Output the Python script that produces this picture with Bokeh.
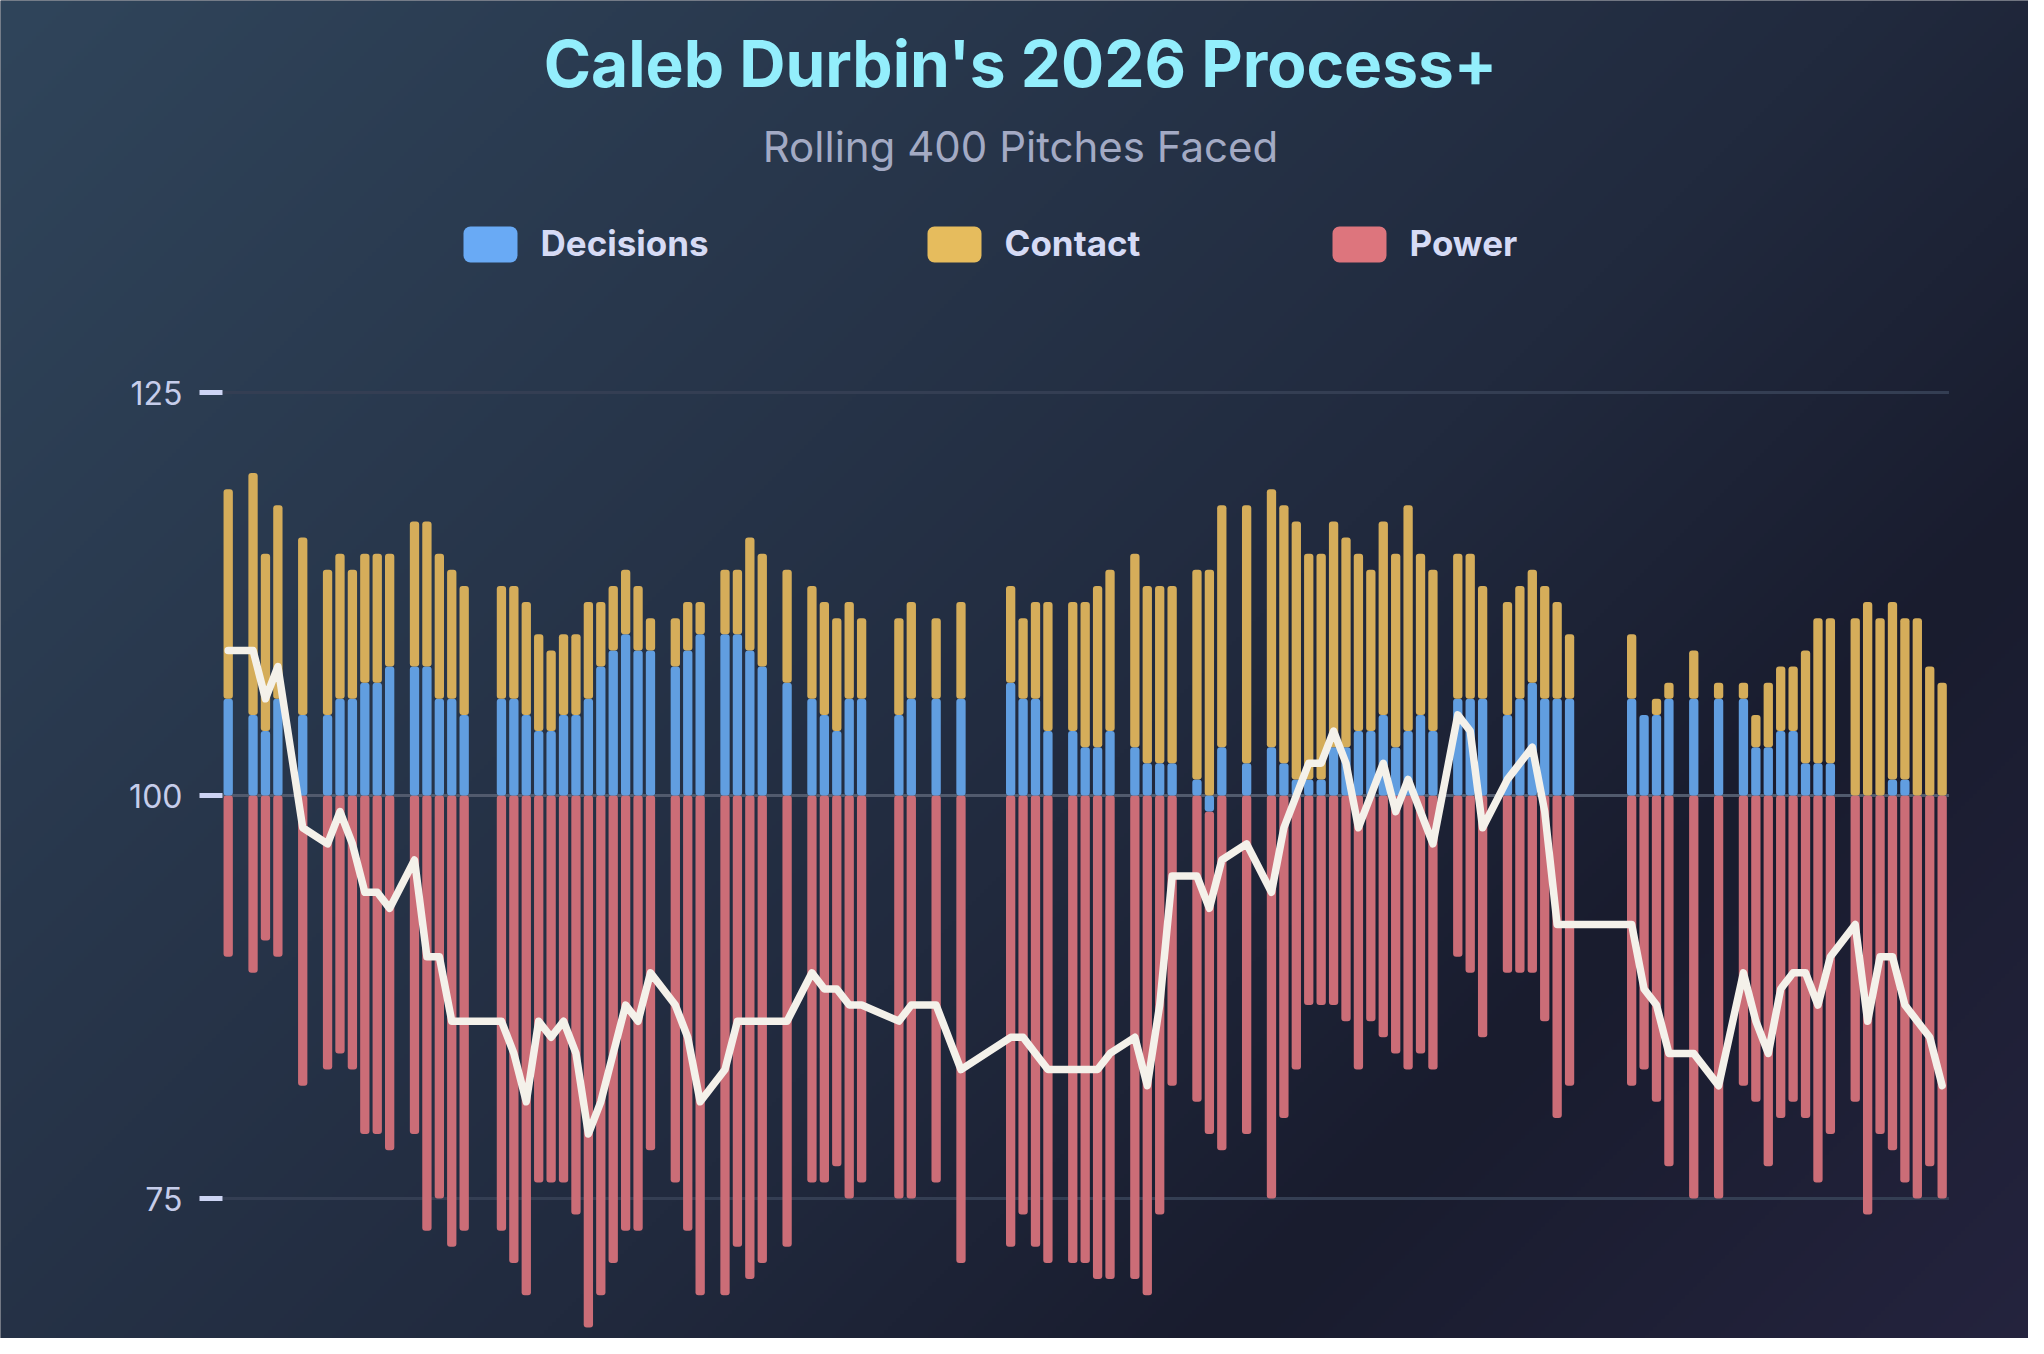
import numpy as np
from bokeh.plotting import figure
from bokeh.models import ColumnDataSource, Range1d, Label
from bokeh.core.properties import value
from bokeh.embed import file_html
from bokeh.resources import INLINE

# game days (index of calendar day in the season window); off days leave gaps
games = [0, 2, 3, 4, 6, 8, 9, 10, 11, 12, 13, 15, 16, 17, 18, 19, 22, 23, 24, 25,
         26, 27, 28, 29, 30, 31, 32, 33, 34, 36, 37, 38, 40, 41, 42, 43, 45, 47, 48, 49,
         50, 51, 54, 55, 57, 59, 63, 64, 65, 66, 68, 69, 70, 71, 73, 74, 75, 76, 78, 79,
         80, 82, 84, 85, 86, 87, 88, 89, 90, 91, 92, 93, 94, 95, 96, 97, 99, 100, 101, 103,
         104, 105, 106, 107, 108, 113, 114, 115, 116, 118, 120, 122, 123, 124, 125, 126, 127, 128, 129, 131,
         132, 133, 134, 135, 136, 137, 138]

decisions = [106, 105, 104, 106, 105, 105, 106, 106, 107, 107, 108, 108, 108, 106, 106, 105, 106, 106, 105, 104,
             104, 105, 105, 106, 108, 109, 110, 109, 109, 108, 109, 110, 110, 110, 109, 108, 107, 106, 105, 104,
             106, 106, 105, 106, 106, 106, 107, 106, 106, 104, 104, 103, 103, 104, 103, 102, 102, 102, 101, 99,
             103, 102, 103, 102, 101, 101, 101, 103, 103, 104, 104, 105, 103, 104, 105, 104, 106, 106, 106, 105,
             106, 107, 106, 106, 106, 106, 105, 105, 106, 106, 106, 106, 103, 103, 104, 104, 102, 102, 102, 100,
             100, 100, 101, 101, 100, 100, 100]

contact = [113, 115, 111, 112, 111, 109, 109, 108, 108, 108, 107, 109, 109, 109, 108, 108, 107, 107, 107, 106,
           105, 105, 105, 106, 104, 104, 104, 104, 102, 103, 103, 102, 104, 104, 107, 107, 107, 107, 107, 107,
           106, 105, 106, 106, 105, 106, 106, 105, 106, 108, 108, 109, 110, 110, 112, 111, 111, 111, 113, 114,
           115, 116, 116, 116, 116, 114, 114, 114, 113, 111, 110, 112, 112, 114, 110, 110, 109, 109, 107, 107,
           107, 107, 107, 106, 104, 104, 100, 101, 101, 103, 101, 101, 102, 104, 104, 104, 107, 109, 109, 111,
           112, 111, 111, 110, 111, 108, 107]

power = [90, 89, 91, 90, 82, 83, 84, 83, 79, 79, 78, 79, 73, 75, 72, 73, 73, 71, 69, 76,
         76, 76, 74, 67, 69, 71, 73, 73, 78, 76, 73, 69, 69, 72, 70, 71, 72, 76, 76, 77,
         75, 76, 75, 75, 76, 71, 72, 74, 72, 71, 71, 71, 70, 70, 70, 69, 74, 82, 81, 80,
         78, 79, 75, 80, 83, 87, 87, 87, 86, 83, 86, 85, 84, 83, 84, 83, 90, 89, 85, 89,
         89, 89, 86, 80, 82, 82, 83, 81, 77, 75, 75, 82, 81, 77, 80, 81, 80, 76, 79, 81,
         74, 79, 78, 76, 75, 77, 75]

tick_values = [75, 100, 125]
series_names = ["Decisions", "Contact", "Power"]

assert len(games) == len(decisions) == len(contact) == len(power)

bar_colors = ["#619ee0", "#d5ad5a", "#cb6d77"]
swatch_colors = ["#69aaf5", "#e6bc5d", "#dd757d"]

# canvas / pixel layout
W, H = 2028, 1338
X0_PX, X_STEP = 227.7, 12.42      # pixel of day 0, pixels per day
Y100_PX, Y_UNIT = 795.0, 16.12    # pixel of 100, pixels per point


def dx(px):
    return (px - X0_PX) / X_STEP


def dy(px):
    return 100 + (Y100_PX - px) / Y_UNIT


p = figure(
    width=W,
    height=H,
    x_range=Range1d(dx(0), dx(W)),
    y_range=Range1d(dy(H), dy(0)),
    x_axis_type=None,
    y_axis_type=None,
    toolbar_location=None,
    output_backend="svg",
    min_border=0,
)
p.outline_line_color = None
p.background_fill_color = "#1f2437"
p.border_fill_color = "#1f2437"

# diagonal background gradient
gh, gw = H // 4, W // 4
yy, xx = np.mgrid[0:gh, 0:gw]
t = (xx * 4 + yy * 4) / (2044 + 1354)
stops = [0.0, 0.55, 0.75, 1.0]
cols = [(0x30, 0x45, 0x5B), (0x21, 0x2A, 0x3E), (0x19, 0x1C, 0x2E), (0x25, 0x24, 0x3F)]
img = np.zeros((gh, gw), dtype=np.uint32)
view = img.view(dtype=np.uint8).reshape((gh, gw, 4))
for ch in range(3):
    view[:, :, ch] = np.interp(t, stops, [c[ch] for c in cols]).astype(np.uint8)
view[:, :, 3] = 255
img = np.flipud(img)
p.image_rgba(image=[img], x=dx(0), y=dy(H), dw=dx(W) - dx(0), dh=dy(0) - dy(H))

# grid lines and 100 baseline
x_lo, x_hi = games[0] - 0.46, games[-1] + 0.55
other_ticks = [v for v in tick_values if v != 100]
p.segment(x0=[x_lo] * len(other_ticks), x1=[x_hi] * len(other_ticks),
          y0=other_ticks, y1=other_ticks, line_color="#343e53", line_width=3)
p.segment(x0=[x_lo], x1=[x_hi], y0=[100], y1=[100], line_color="#515a6d", line_width=3)

# y ticks drawn by hand
p.segment(x0=[dx(199)] * 3, x1=[dx(222)] * 3, y0=tick_values, y1=tick_values,
          line_color="#cdd4f4", line_width=5)
p.text(x=[dx(182)] * 3, y=tick_values, text=[str(v) for v in tick_values],
       text_align="right", text_baseline="middle",
       text_font=value("Inter"), text_font_size="32px", text_color="#c6cdea")

# stacked diverging bars around 100
metrics = [decisions, contact, power]
segs = [dict(x=[], bottom=[], top=[]) for _ in metrics]
for i, g in enumerate(games):
    pos, neg = 100.0, 100.0
    for m, vals in enumerate(metrics):
        d = vals[i] - 100
        if d > 0:
            segs[m]["x"].append(g)
            segs[m]["bottom"].append(pos)
            segs[m]["top"].append(pos + d)
            pos += d
        elif d < 0:
            segs[m]["x"].append(g)
            segs[m]["bottom"].append(neg + d)
            segs[m]["top"].append(neg)
            neg += d

for m in [2, 0, 1]:
    p.vbar(x="x", bottom="bottom", top="top", width=0.75,
           source=ColumnDataSource(segs[m]), fill_color=bar_colors[m],
           line_color=None, border_radius=3)

# overall process+ line
total = [d + c + pw - 200 for d, c, pw in zip(decisions, contact, power)]
p.line(games, total, line_color="#f4f1ea", line_width=7.5,
       line_join="round", line_cap="round")

# title and subtitle
p.add_layout(Label(x=dx(1020), y=dy(63), text="Caleb Durbin's 2026 Process+",
                   text_align="center", text_baseline="middle",
                   text_font="Inter", text_font_size="64px", text_font_style="bold",
                   text_color="#93eefc"))
p.add_layout(Label(x=dx(1020), y=dy(146), text="Rolling 400 Pitches Faced",
                   text_align="center", text_baseline="middle",
                   text_font="Inter", text_font_size="42px",
                   text_color="#a3aac4"))

# legend
sw_left = [463, 927, 1332]
p.quad(left=[dx(v) for v in sw_left], right=[dx(v + 54) for v in sw_left],
       top=[dy(226)] * 3, bottom=[dy(262)] * 3,
       fill_color=swatch_colors, line_color=None, border_radius=7)
for name, left in zip(series_names, sw_left):
    p.add_layout(Label(x=dx(left + 77), y=dy(242), text=name,
                       text_align="left", text_baseline="middle",
                       text_font="Inter", text_font_size="35px", text_font_style="bold",
                       text_color="#d6dbf5"))

html = file_html(p, INLINE)
html = html.replace("<body>", '<body style="background:#22243a">', 1)
open("out.html", "w").write(html)
